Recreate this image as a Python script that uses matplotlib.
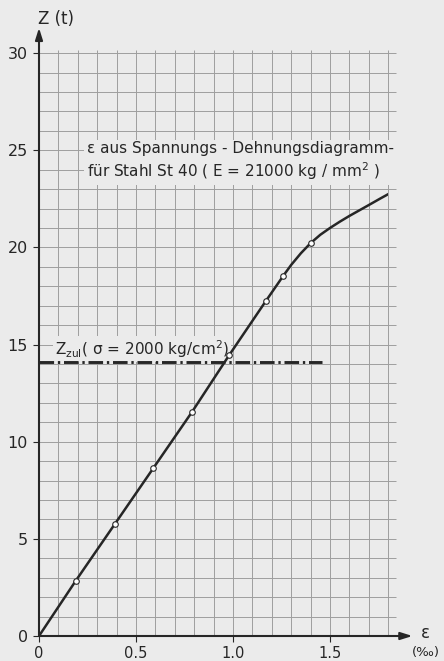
import numpy as np
import matplotlib
matplotlib.use('Agg')
import matplotlib.pyplot as plt

plt.rcParams['font.family'] = ['DejaVu Sans']
plt.rcParams['mathtext.default'] = 'regular'

# values (strain in permille, load in t)
eps_curve = [0, 0.19, 0.39, 0.59, 0.79, 0.98, 1.17, 1.26, 1.30, 1.35, 1.40, 1.45,
             1.50, 1.55, 1.60, 1.65, 1.70, 1.76, 1.82]
z_curve = [0, 2.85, 5.75, 8.65, 11.55, 14.45, 17.25, 18.55, 19.1, 19.7, 20.22, 20.65,
           21.0, 21.32, 21.62, 21.9, 22.18, 22.52, 22.85]
eps_points = [0.19, 0.39, 0.59, 0.79, 0.98, 1.17, 1.26, 1.40]
z_points = [2.85, 5.75, 8.65, 11.55, 14.45, 17.25, 18.55, 20.22]
z_zul = 14.1
eps_zul_end = 1.46
x_ticks = [0, 0.5, 1.0, 1.5]
x_ticklabels = ['0', '0.5', '1.0', '1.5']
y_ticks = [0, 5, 10, 15, 20, 25, 30]

bg = '#ebebeb'
ink = '#262626'
gridc = '#9e9e9e'

fig = plt.figure(figsize=(4.44, 6.61), dpi=100, facecolor=bg)
ax = fig.add_axes([39 / 444, 25 / 661, 349.2 / 444, 582.9 / 661])
ax.set_facecolor(bg)
ax.set_xlim(0, 1.8)
ax.set_ylim(0, 30)
for s in ax.spines.values():
    s.set_visible(False)

# grid, slightly running over the last lines like in the drawing
ax.vlines(np.arange(1, 19) * 0.1, 0, 30.17, color=gridc, lw=0.7, zorder=1, clip_on=False)
ax.hlines(np.arange(1, 31), 0, 1.84, color=gridc, lw=0.7, zorder=1, clip_on=False)

ax.set_xticks(x_ticks)
ax.set_xticklabels(x_ticklabels)
ax.set_yticks(y_ticks)
ax.tick_params(axis='x', length=4, width=0.8, color=ink, pad=3.5, labelsize=10.5, labelcolor=ink)
ax.tick_params(axis='y', length=4, width=0.8, color=ink, pad=4, labelsize=11.5, labelcolor=ink)

# axes with arrows
arrow = dict(arrowstyle='-|>,head_length=0.7,head_width=0.22', color=ink, lw=1.5, shrinkA=0, shrinkB=0)
ax.annotate('', xy=(0, 31.3), xytext=(0, 0), arrowprops=arrow, annotation_clip=False, zorder=4)
ax.annotate('', xy=(1.925, 0), xytext=(0, 0), arrowprops=arrow, annotation_clip=False, zorder=4)

ax.text(0.09, 31.75, 'Z (t)', fontsize=12, color=ink, ha='center', va='center')
ax.text(1.99, 0.15, 'ε', fontsize=12, color=ink, ha='center', va='center', clip_on=False)
ax.text(1.995, -0.85, '(‰)', fontsize=9.5, color=ink, ha='center', va='center', clip_on=False)

# allowable load line
ax.plot([0, eps_zul_end], [z_zul, z_zul], color=ink, lw=2.1, dashes=(5, 1.3, 0.8, 1.3), zorder=3)
ax.text(0.082, 14.77, r'Z$_{zul}$( σ = 2000 kg/cm$^{2}$)', fontsize=11, color=ink,
        ha='left', va='center', zorder=2,
        bbox=dict(boxstyle='square,pad=0.15', facecolor=bg, edgecolor='none'))

# stress-strain curve
ax.plot(eps_curve, z_curve, color=ink, lw=1.8, zorder=4, solid_capstyle='round', solid_joinstyle='round')
ax.plot(eps_points, z_points, 'o', ms=4, mfc='white', mec=ink, mew=0.8, zorder=5)

ax.text(0.247, 24.4, 'ε aus Spannungs - Dehnungsdiagramm-\nfür Stahl St 40 ( E = 21000 kg / mm$^{2}$ )',
        fontsize=11, color=ink, ha='left', va='center', linespacing=1.25, zorder=2,
        bbox=dict(boxstyle='square,pad=0.2', facecolor=bg, edgecolor='none'))

fig.savefig('out.png', dpi=100, facecolor=bg)
